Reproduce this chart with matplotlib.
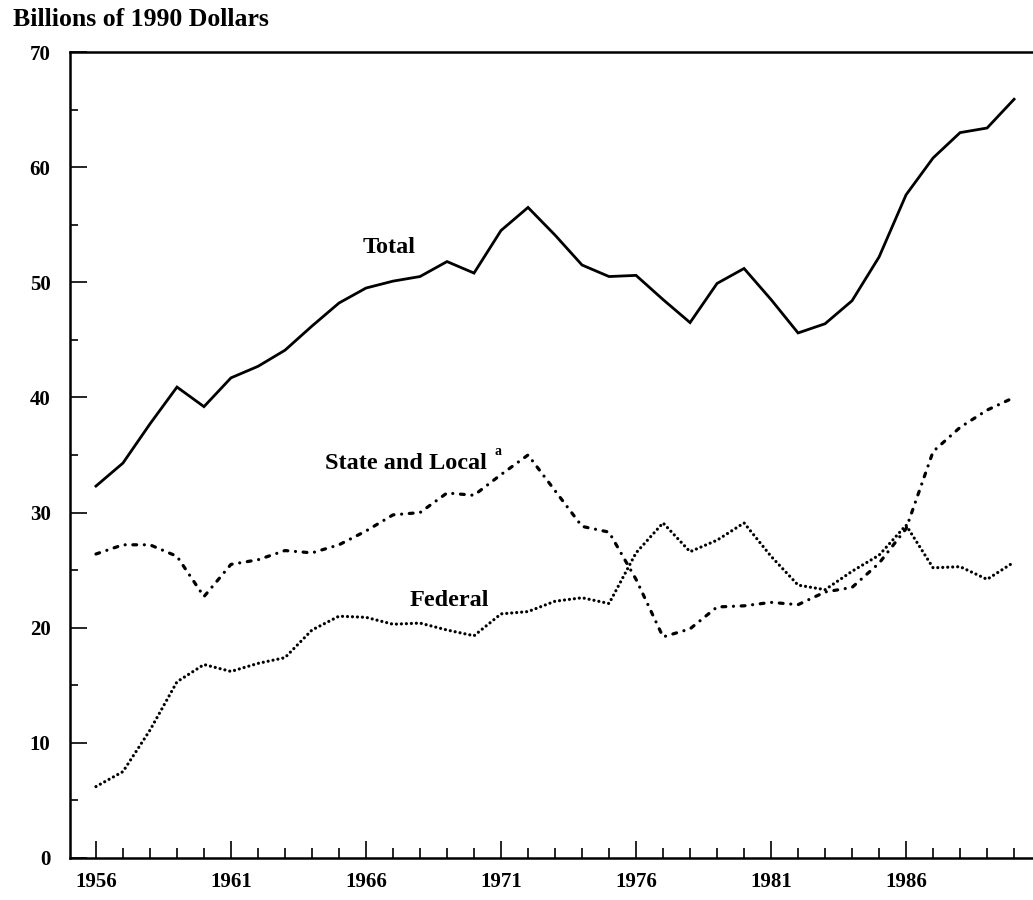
import matplotlib
matplotlib.use("Agg")
import matplotlib.pyplot as plt
from matplotlib.ticker import MultipleLocator

years = list(range(1956, 1991))
total = [32.3, 34.3, 37.7, 40.9, 39.2, 41.7, 42.7, 44.1, 46.2, 48.2,
         49.5, 50.1, 50.5, 51.8, 50.8, 54.5, 56.5, 54.1, 51.5, 50.5,
         50.6, 48.5, 46.5, 49.9, 51.2, 48.5, 45.6, 46.4, 48.4, 52.2,
         57.6, 60.8, 63.0, 63.4, 65.9]
state_local = [26.4, 27.2, 27.2, 26.2, 22.7, 25.5, 25.9, 26.7, 26.5, 27.2,
               28.4, 29.8, 30.0, 31.7, 31.5, 33.3, 35.0, 31.9, 28.8, 28.3,
               24.2, 19.2, 19.9, 21.8, 21.9, 22.2, 22.0, 23.1, 23.5, 25.6,
               28.6, 35.3, 37.4, 38.9, 40.0]
federal = [6.2, 7.5, 11.1, 15.3, 16.8, 16.2, 16.9, 17.4, 19.8, 21.0,
           20.9, 20.3, 20.4, 19.8, 19.3, 21.2, 21.4, 22.3, 22.6, 22.1,
           26.5, 29.1, 26.6, 27.6, 29.1, 26.2, 23.7, 23.3, 24.9, 26.3,
           28.9, 25.2, 25.3, 24.2, 25.7]

x_ticks = [1956, 1961, 1966, 1971, 1976, 1981, 1986]
y_ticks = [0, 10, 20, 30, 40, 50, 60, 70]

plt.rcParams['font.family'] = ['Liberation Serif', 'DejaVu Serif']

fig = plt.figure(figsize=(10.33, 9.0), dpi=100)
ax = fig.add_axes([0.0678, 0.0467, 0.9322, 0.8955])

ax.plot(years, total, color='black', lw=2.0, solid_joinstyle='miter')
ax.plot(years, state_local, color='black', lw=2.3,
        linestyle=(0, (1.2, 2.4, 0.01, 2.4)), dash_capstyle='round')
ax.plot(years, federal, color='black', lw=2.3,
        linestyle=(0, (0.01, 1.55)), dash_capstyle='round')

ax.set_xlim(1955.04, 1990.7)
ax.set_ylim(0, 70)

ax.set_xticks(x_ticks)
ax.set_xticklabels([str(v) for v in x_ticks])
ax.xaxis.set_minor_locator(MultipleLocator(1))
ax.set_yticks(y_ticks)
ax.set_yticklabels([str(v) for v in y_ticks])
ax.yaxis.set_minor_locator(MultipleLocator(5))

ax.tick_params(axis='x', which='major', direction='in', length=12, width=1.2, pad=10)
ax.tick_params(axis='x', which='minor', direction='in', length=7, width=1.2)
ax.tick_params(axis='y', which='major', direction='in', length=12, width=1.2, pad=14)
ax.tick_params(axis='y', which='minor', direction='in', length=6, width=1.2)
for lab in ax.get_xticklabels() + ax.get_yticklabels():
    lab.set_fontsize(15)
    lab.set_fontweight('bold')

for s in ['left', 'bottom', 'top']:
    ax.spines[s].set_linewidth(1.8)
ax.spines['right'].set_visible(False)

ax.text(1966.85, 53.0, 'Total', fontsize=17.5, fontweight='bold', ha='center', va='center')
ax.text(1970.48, 34.3, 'State and Local', fontsize=17.5, fontweight='bold',
        ha='right', va='center')
ax.text(1970.9, 35.3, 'a', fontsize=10, fontweight='bold', ha='center', va='center')
ax.text(1969.07, 22.4, 'Federal', fontsize=17.5, fontweight='bold', ha='center', va='center')

fig.text(0.0126, 0.978, 'Billions of 1990 Dollars', fontsize=18.5, fontweight='bold',
         ha='left', va='center')

fig.savefig('out.png', dpi=100)
